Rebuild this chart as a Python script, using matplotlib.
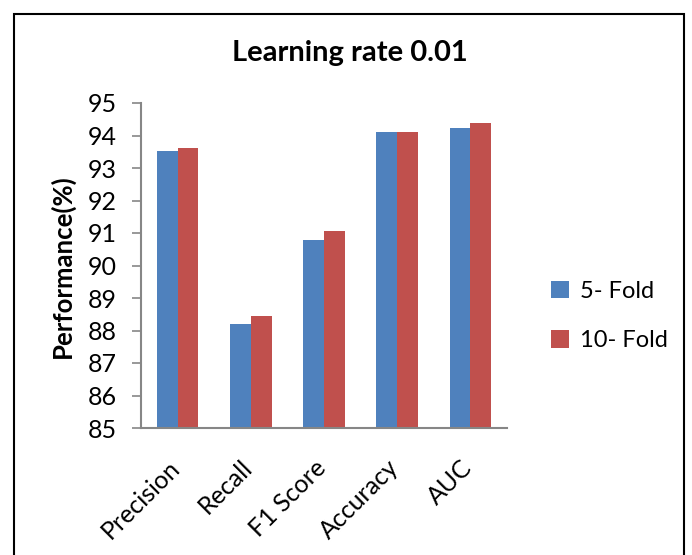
import numpy as np
import matplotlib.pyplot as plt
from matplotlib.patches import Rectangle
from matplotlib.transforms import ScaledTranslation

# performance per metric for the two cross-validation setups
metrics = ['Precision', 'Recall', 'F1 Score', 'Accuracy', 'AUC']
fold5 = [93.52, 88.21, 90.80, 94.11, 94.24]
fold10 = [93.63, 88.46, 91.06, 94.12, 94.37]
series_names = ['5- Fold', '10- Fold']
yticks = list(range(85, 96))

plt.rcParams['font.family'] = ['Lato', 'DejaVu Sans']

fig = plt.figure(figsize=(6.92, 5.55), dpi=100)
ax = fig.add_axes([141/692, 1 - 428/555, 366/692, 325/555])

x = np.arange(len(metrics))
w = 0.283
b1 = ax.bar(x - w/2, fold5, w, bottom=0, color='#4F81BD', label=series_names[0])
b2 = ax.bar(x + w/2, fold10, w, bottom=0, color='#C0504D', label=series_names[1])

ax.set_xlim(-0.5, len(metrics) - 0.5)
ax.set_ylim(85, 95)
ax.set_yticks(yticks)
ax.set_yticklabels([str(t) for t in yticks], fontsize=18)
ax.set_xticks(x)
ax.set_xticklabels(metrics, fontsize=18, rotation=45, ha='right',
                   rotation_mode='anchor')
ax.tick_params(axis='x', length=0, pad=20)
ax.tick_params(axis='y', length=6.5, color='#868686', width=1.2, pad=11)

# nudge the slanted category labels a little to the left
shift = ScaledTranslation(-10/100, 0, fig.dpi_scale_trans)
for lbl in ax.get_xticklabels():
    lbl.set_transform(lbl.get_transform() + shift)

for side in ['top', 'right']:
    ax.spines[side].set_visible(False)
for side in ['left', 'bottom']:
    ax.spines[side].set_color('#868686')
    ax.spines[side].set_linewidth(1.5)

ax.set_ylabel('Performance(%)', fontsize=18.5, fontweight='bold')
ax.yaxis.set_label_coords(-(141 - 75)/366, (428 - 266)/325)
fig.text(350/692, 1 - 53/555, 'Learning rate 0.01', fontsize=21,
         fontweight='bold', ha='center', va='center')

leg = fig.legend(handles=[b1, b2], loc='center left',
                 bbox_to_anchor=(530/692, 1 - 316/555), frameon=False,
                 fontsize=17, handlelength=0.75, handleheight=0.75,
                 labelspacing=1.2, handletextpad=0.45)

# outer chart border
fig.patches.append(Rectangle((14/692, -0.05), 670/692, 1 - 14/555 + 0.05,
                             transform=fig.transFigure, fill=False,
                             edgecolor='black', linewidth=1.5))

fig.savefig('out.png', dpi=100)
